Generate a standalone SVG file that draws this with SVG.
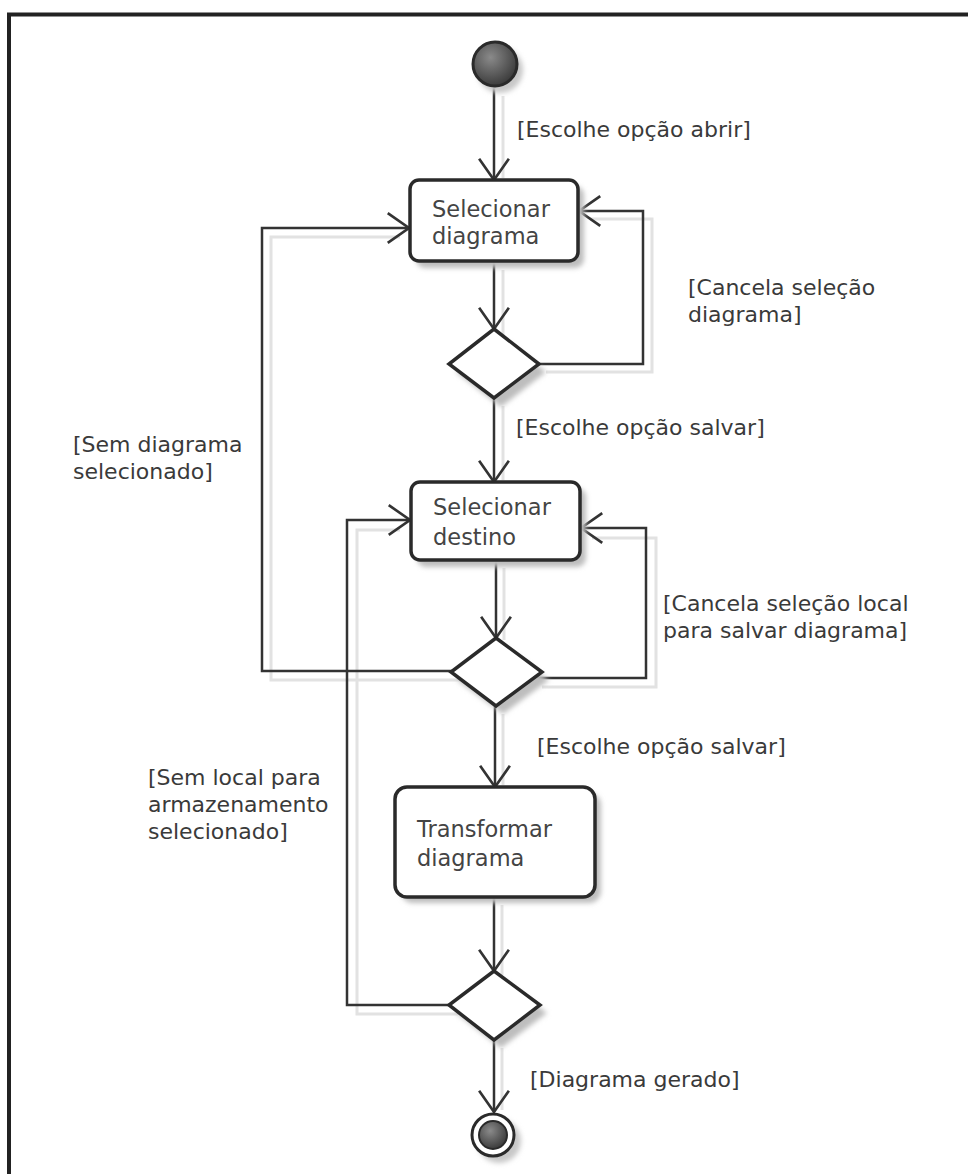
<svg xmlns="http://www.w3.org/2000/svg" width="968" height="1174" viewBox="0 0 968 1174">
<defs>
<style>
.frame{fill:none;stroke:#222;stroke-width:4}
.conn{fill:none;stroke:#333;stroke-width:2.5}
.shd{fill:none;stroke:#e2e2e2;stroke-width:3}
.box{fill:#fff;stroke:#2a2a2a;stroke-width:3.5}
.dia{fill:#fff;stroke:#2a2a2a;stroke-width:3.5}
.boxshd{fill:#bdbdbd;filter:url(#blur)}
.lbl{font-family:"DejaVu Sans",sans-serif;font-size:22px;fill:#3a3a3a}
.ntxt{font-family:"DejaVu Sans",sans-serif;font-size:22.5px;fill:#444}
</style>
<filter id="blur" x="-20%" y="-20%" width="140%" height="140%"><feGaussianBlur stdDeviation="2.5"/></filter>
<radialGradient id="ball" cx="40%" cy="35%" r="65%">
<stop offset="0" stop-color="#8a8a8a"/>
<stop offset="1" stop-color="#3c3c3c"/>
</radialGradient>
<marker id="arr" markerUnits="userSpaceOnUse" markerWidth="30" markerHeight="34" viewBox="-22 -16 24 32" refX="0" refY="0" orient="auto">
<path d="M-20,-14 L0,0 L-20,14" fill="none" stroke="#333" stroke-width="2.5"/>
</marker>
</defs>
<rect x="0" y="0" width="968" height="1174" fill="#fff"/>
<path class="frame" d="M9,1174 V14.5 H968"/>

<g id="connector-shadows">
<path class="shd" d="M503,96 V178"/>
<path class="shd" d="M503,270 V335"/>
<path class="shd" d="M546,372 H652 V219 H590"/>
<path class="shd" d="M503,406 V480"/>
<path class="shd" d="M504,568 V640"/>
<path class="shd" d="M542,687 H656 V538 H592"/>
<path class="shd" d="M460,680 H271 V237 H400"/>
<path class="shd" d="M503,714 V785"/>
<path class="shd" d="M502,905 V975"/>
<path class="shd" d="M458,1014 H357 V530 H400"/>
<path class="shd" d="M502,1048 V1110"/>
</g>

<g id="connectors">
<path class="conn" marker-end="url(#arr)" d="M494,87 V180"/>
<path class="conn" marker-end="url(#arr)" d="M494,262 V329"/>
<path class="conn" marker-end="url(#arr)" d="M538,364 H643 V211 H579"/>
<path class="conn" marker-end="url(#arr)" d="M494,398 V482"/>
<path class="conn" marker-end="url(#arr)" d="M496,561 V638"/>
<path class="conn" marker-end="url(#arr)" d="M534,678 H646 V528 H581"/>
<path class="conn" marker-end="url(#arr)" d="M452,671 H262 V228 H409"/>
<path class="conn" marker-end="url(#arr)" d="M495,706 V787"/>
<path class="conn" marker-end="url(#arr)" d="M494,898 V971"/>
<path class="conn" marker-end="url(#arr)" d="M449,1005 H347 V520 H410"/>
<path class="conn" marker-end="url(#arr)" d="M494,1040 V1112"/>
</g>

<g id="start">
<circle cx="500" cy="70" r="23" fill="#c8c8c8" filter="url(#blur)"/>
<circle cx="495" cy="64" r="22" fill="url(#ball)" stroke="#2a2a2a" stroke-width="3"/>
</g>

<g id="selecionar-diagrama">
<rect class="boxshd" x="416" y="186" width="168" height="82" rx="9"/>
<rect class="box" x="410" y="180" width="168" height="81" rx="9"/>
<text class="ntxt" x="432" y="217">Selecionar</text>
<text class="ntxt" x="432" y="244">diagrama</text>
</g>

<g id="decisao-1">
<polygon class="boxshd" points="501,337 546,372 501,407 456,372"/>
<polygon class="dia" points="494,329 539,364 494,398 449,364"/>
</g>

<g id="selecionar-destino">
<rect class="boxshd" x="417" y="488" width="169" height="79" rx="9"/>
<rect class="box" x="411" y="482" width="169" height="78" rx="9"/>
<text class="ntxt" x="433" y="515">Selecionar</text>
<text class="ntxt" x="433" y="545">destino</text>
</g>

<g id="decisao-2">
<polygon class="boxshd" points="503,646 549,680 503,714 457,680"/>
<polygon class="dia" points="496,638 542,672 496,706 451,672"/>
</g>

<g id="transformar-diagrama">
<rect class="boxshd" x="401" y="793" width="200" height="110" rx="12"/>
<rect class="box" x="395" y="787" width="200" height="110" rx="12"/>
<text class="ntxt" x="417" y="837">Transformar</text>
<text class="ntxt" x="417" y="866">diagrama</text>
</g>

<g id="decisao-3">
<polygon class="boxshd" points="501,979 547,1013 501,1048 456,1013"/>
<polygon class="dia" points="494,971 540,1005 494,1040 449,1005"/>
</g>

<g id="fim">
<circle cx="499" cy="1141" r="22" fill="#c8c8c8" filter="url(#blur)"/>
<circle cx="493" cy="1135" r="21" fill="#fff" stroke="#2a2a2a" stroke-width="3"/>
<circle cx="493" cy="1135" r="14" fill="url(#ball)" stroke="#2a2a2a" stroke-width="2"/>
</g>

<g id="labels">
<text class="lbl" x="517" y="137">[Escolhe opção abrir]</text>
<text class="lbl" x="688" y="295">[Cancela seleção</text>
<text class="lbl" x="688" y="322">diagrama]</text>
<text class="lbl" x="516" y="435">[Escolhe opção salvar]</text>
<text class="lbl" x="73" y="452">[Sem diagrama</text>
<text class="lbl" x="73" y="479">selecionado]</text>
<text class="lbl" x="663" y="611">[Cancela seleção local</text>
<text class="lbl" x="663" y="638">para salvar diagrama]</text>
<text class="lbl" x="537" y="754">[Escolhe opção salvar]</text>
<text class="lbl" x="148" y="785">[Sem local para</text>
<text class="lbl" x="148" y="812">armazenamento</text>
<text class="lbl" x="148" y="839">selecionado]</text>
<text class="lbl" x="530" y="1087">[Diagrama gerado]</text>
</g>
</svg>
